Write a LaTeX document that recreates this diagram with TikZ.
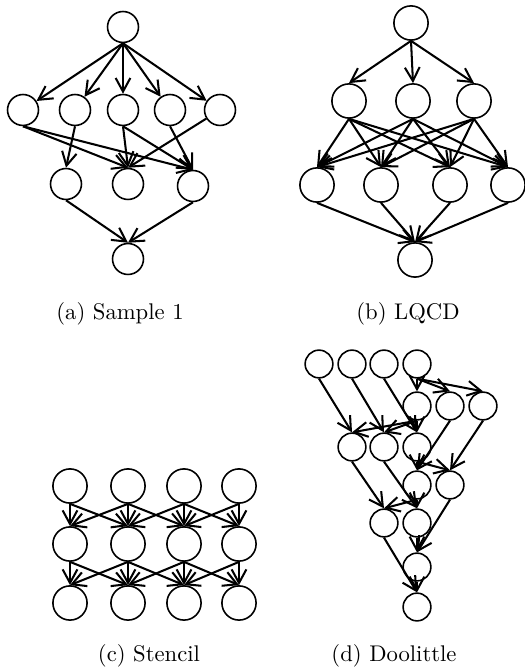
\documentclass[tikz,border=0pt]{standalone}
\usetikzlibrary{arrows.meta}

\begin{document}
\begin{tikzpicture}[
    x=0.0155cm, y=-0.0155cm,
    task/.style={draw, circle, line width=0.7pt, inner sep=0pt, minimum size=#1},
    task/.default=0.53cm,
    dep/.style={-{Straight Barb[length=6pt,width=6.5pt]}, line width=0.9pt},
    subcap/.style={font=\normalsize, inner sep=0pt}
]
\useasboundingbox (0,0) rectangle (524,668);

% (a) Sample 1
\node[task=0.48cm] (a0) at (123,27) {};
\node[task=0.48cm] (a1) at (23,110) {};
\node[task=0.48cm] (a2) at (75,110) {};
\node[task=0.48cm] (a3) at (123,110) {};
\node[task=0.48cm] (a4) at (170,110) {};
\node[task=0.48cm] (a5) at (220,110) {};
\node[task=0.48cm] (a6) at (66,184) {};
\node[task=0.48cm] (a7) at (128,184) {};
\node[task=0.48cm] (a8) at (193,186) {};
\node[task=0.48cm] (a9) at (128,259) {};

\foreach \t in {a1,a2,a3,a4,a5}
    \draw[dep] (a0.south) -- (\t);
\draw[dep] (a1.south) -- (a7.north);
\draw[dep] (a1.south) -- (a8.north);
\draw[dep] (a2.south) -- (a6.north);
\draw[dep] (a3.south) -- (a7.north);
\draw[dep] (a3.south) -- (a8.north);
\draw[dep] (a4.south) -- (a8.north);
\draw[dep] (a5) -- (a7.north);
\draw[dep] (a6.south) -- (a9.north);
\draw[dep] (a8.south) -- (a9.north);

\node[subcap] (capa) at (120,314) {(a) Sample 1};

% (b) LQCD
\node[task] (b0) at (411,23) {};
\node[task] (b1) at (349,101) {};
\node[task] (b2) at (413,101) {};
\node[task] (b3) at (474,101) {};
\node[task] (b4) at (317,185) {};
\node[task] (b5) at (381,185) {};
\node[task] (b6) at (450,185) {};
\node[task] (b7) at (508,185) {};
\node[task] (b8) at (415,260) {};

\foreach \t in {b1,b2,b3}
    \draw[dep] (b0.south) -- (\t.north);
\foreach \s in {b1,b2,b3}
    \foreach \t in {b4,b5,b6,b7}
        \draw[dep] (\s.south) -- (\t.north);
\foreach \s in {b4,b5,b6,b7}
    \draw[dep] (\s.south) -- (b8.north);

\node[subcap] (capb) at (408,314) {(b) LQCD};

% (c) Stencil
\foreach \i/\x in {1/70,2/128,3/184,4/239}
    \foreach \j/\y in {1/486,2/544,3/603}
        \node[task] (c\j\i) at (\x,\y) {};

\foreach \j/\k in {1/2,2/3}
    \foreach \i/\n in {1/1,1/2,2/1,2/2,2/3,3/2,3/3,3/4,4/3,4/4}
        \draw[dep] (c\j\i.south) -- (c\k\n.north);

\node[subcap] (capc) at (149,656) {(c) Stencil};

% (d) Doolittle
\node[task=0.43cm] (d11) at (319,364) {};
\node[task=0.43cm] (d12) at (352,364) {};
\node[task=0.43cm] (d13) at (384,364) {};
\node[task=0.43cm] (d14) at (417,364) {};
\node[task=0.43cm] (d21) at (417,406) {};
\node[task=0.43cm] (d22) at (450,406) {};
\node[task=0.43cm] (d23) at (483,406) {};
\node[task=0.43cm] (d31) at (352,447) {};
\node[task=0.43cm] (d32) at (384,447) {};
\node[task=0.43cm] (d33) at (417,447) {};
\node[task=0.43cm] (d41) at (417,485) {};
\node[task=0.43cm] (d42) at (450,485) {};
\node[task=0.43cm] (d51) at (384,523) {};
\node[task=0.43cm] (d52) at (417,523) {};
\node[task=0.43cm] (d61) at (417,567) {};
\node[task=0.43cm] (d71) at (417,607) {};

\foreach \s/\t in {d14/d21,d14/d22,d14/d23,
                   d11/d31,d12/d32,d13/d33,
                   d21/d31,d21/d32,d21/d33,
                   d22/d41,d23/d42,d33/d41,d33/d42,
                   d31/d51,d32/d52,d41/d51,d41/d52,
                   d42/d61,d52/d61,d51/d71,d61/d71}
    \draw[dep] (\s.south) -- (\t.north);

\node[subcap] (capd) at (394,656) {(d) Doolittle};

\end{tikzpicture}
\end{document}
